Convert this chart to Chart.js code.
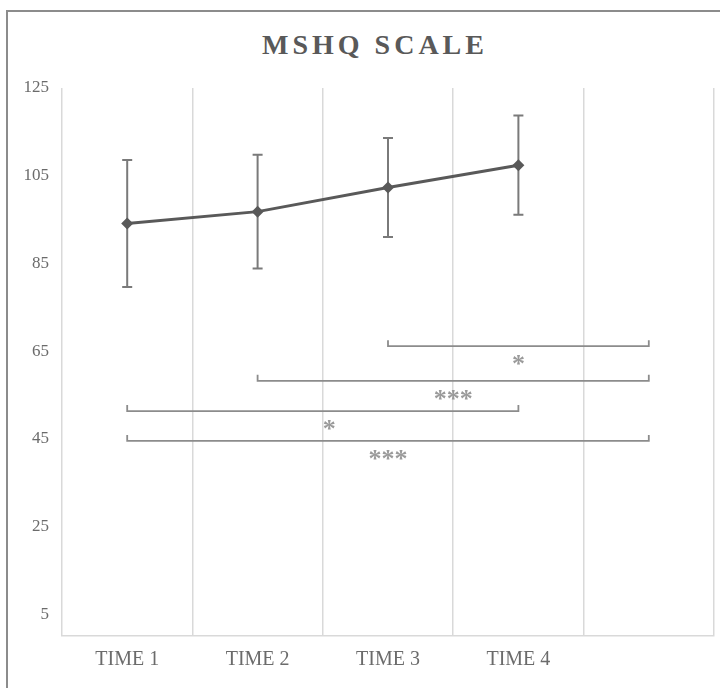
<!DOCTYPE html>
<html>
<head>
<meta charset="utf-8">
<script src="https://cdn.jsdelivr.net/npm/chart.js@4/dist/chart.umd.min.js"></script>
<style>
  body { margin: 0; background: #fff; }
  #frame {
    position: absolute; left: 6px; top: 10px;
    width: 740px; height: 700px;
    border: 2px solid #8c8c8c;
  }
  #title {
    position: absolute; left: 0; top: 30px; width: 742px;
    text-align: center;
    font: bold 28px "Liberation Serif", "DejaVu Serif", serif;
    line-height: 30px;
    letter-spacing: 4px;
    padding-left: 4px;
    color: #595959;
  }
  #chart { position: absolute; left: 0; top: 0; }
</style>
</head>
<body>
<div id="frame"></div>
<div id="title">MSHQ SCALE</div>
<canvas id="chart" width="720" height="688"></canvas>
<script>
// ====== DATA ======
const timeLabels = ['TIME 1', 'TIME 2', 'TIME 3', 'TIME 4', ''];
const meanScores = [94.1, 96.8, 102.3, 107.4, null];
const errorSize = [14.5, 13.0, 11.3, 11.3];
const yTicks = [5, 25, 45, 65, 85, 105, 125];

// significance brackets (category index from/to, y level, stars, where the stars sit)
const bracketFrom = [2, 1, 0, 0];
const bracketTo = [4, 4, 3, 4];
const bracketY = [66.1, 58.2, 51.3, 44.5];
const bracketStars = ['*', '***', '*', '***'];
const starsX = [3, 2.5, 1.55, 2];

const serif = '"Liberation Serif", "DejaVu Serif", serif';

// error bars go behind the line
const errorBarsPlugin = {
    id: 'errorBars',
    beforeDatasetsDraw(chart) {
        const ctx = chart.ctx;
        const x = chart.scales.x;
        const y = chart.scales.y;
        ctx.save();
        ctx.strokeStyle = '#7a7a7a';
        ctx.lineWidth = 2;
        errorSize.forEach((e, i) => {
            const px = x.getPixelForValue(i);
            const top = y.getPixelForValue(meanScores[i] + e);
            const bot = y.getPixelForValue(meanScores[i] - e);
            ctx.beginPath();
            ctx.moveTo(px, top); ctx.lineTo(px, bot);
            ctx.moveTo(px - 5, top); ctx.lineTo(px + 5, top);
            ctx.moveTo(px - 5, bot); ctx.lineTo(px + 5, bot);
            ctx.stroke();
        });
        ctx.restore();
    }
};

const bracketsPlugin = {
    id: 'brackets',
    afterDatasetsDraw(chart) {
        const ctx = chart.ctx;
        const x = chart.scales.x;
        const y = chart.scales.y;
        ctx.save();
        ctx.strokeStyle = '#8c8c8c';
        ctx.lineWidth = 1.8;
        ctx.fillStyle = '#9a9a9a';
        ctx.font = 'bold 26px ' + serif;
        ctx.textAlign = 'center';
        ctx.textBaseline = 'middle';
        bracketY.forEach((v, i) => {
            const x1 = x.getPixelForValue(bracketFrom[i]);
            const x2 = x.getPixelForValue(bracketTo[i]);
            const py = y.getPixelForValue(v);
            ctx.beginPath();
            ctx.moveTo(x1, py - 6); ctx.lineTo(x1, py);
            ctx.lineTo(x2, py); ctx.lineTo(x2, py - 6);
            ctx.stroke();
            ctx.fillText(bracketStars[i], x.getPixelForValue(starsX[i]), py + 19);
        });
        ctx.restore();
    }
};

new Chart(document.getElementById('chart'), {
    type: 'line',
    data: {
        labels: timeLabels,
        datasets: [{
            label: 'MSHQ',
            data: meanScores,
            borderColor: '#595959',
            backgroundColor: '#595959',
            borderWidth: 3,
            pointStyle: 'rectRot',
            pointRadius: 6,
            pointBorderWidth: 0,
            tension: 0
        }]
    },
    options: {
        responsive: false,
        animation: false,
        layout: { padding: { top: 88, right: 5, left: 0, bottom: 0 } },
        plugins: {
            legend: { display: false },
            tooltip: { enabled: false }
        },
        scales: {
            x: {
                offset: true,
                grid: { offset: true, color: '#d9d9d9', lineWidth: 1.5, drawTicks: false },
                border: { color: '#d9d9d9', width: 1.5 },
                ticks: { color: '#6b6b6b', font: { family: serif, size: 20 }, padding: 12 },
                afterFit(scale) { scale.height = 52; }
            },
            y: {
                min: 0,
                max: 125,
                grid: { display: false },
                border: { display: false },
                afterBuildTicks(scale) { scale.ticks = yTicks.map(v => ({ value: v })); },
                ticks: { color: '#6b6b6b', font: { family: serif, size: 17 }, padding: 5 },
                afterFit(scale) { scale.width = 62; }
            }
        }
    },
    plugins: [errorBarsPlugin, bracketsPlugin]
});
</script>
</body>
</html>
